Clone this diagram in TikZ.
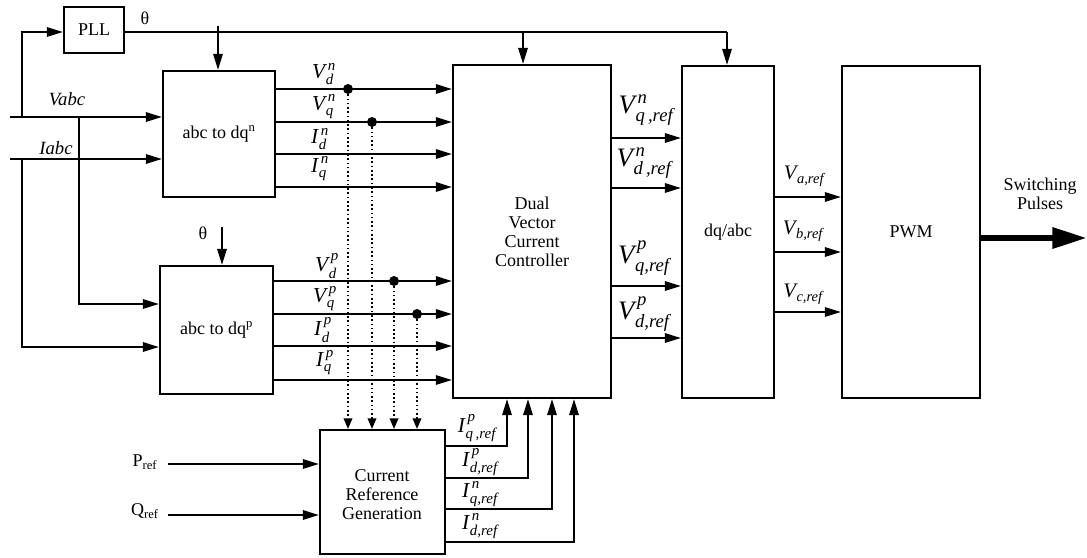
\documentclass[tikz,border=0pt]{standalone}
\usepackage{amsmath}
\usepackage{fontspec}
\setmainfont{Liberation Serif}
\usetikzlibrary{arrows.meta,fit}
\newcommand\sg[3]{$\textit{#1}^{\kern2pt\textit{#2}}_{\kern0.5pt\textit{#3}}$}
\begin{document}
\begin{tikzpicture}[x=0.75pt,y=-0.75pt,
  box/.style={draw, line width=1.6pt, inner sep=0pt},
  btxt/.style={align=center, inner sep=0pt, font=\fontsize{13.5}{14.2}\selectfont},
  ln/.style={line width=1.5pt},
  arr/.style={line width=1.5pt, -{Triangle[length=12pt,width=7pt]}},
  dotarr/.style={dotted, line width=1.2pt, -{Triangle[length=8pt,width=6.5pt]}},
  jn/.style={circle, fill, inner sep=0pt, minimum size=7.5pt},
  lbl/.style={inner sep=0pt, font=\fontsize{16}{16}\selectfont},
  lblbig/.style={inner sep=0pt, font=\fontsize{20}{20}\selectfont},
  lblmid/.style={inner sep=0pt, font=\fontsize{16}{16}\selectfont},
  lblsm/.style={inner sep=0pt, font=\fontsize{15.5}{15.5}\selectfont},
  txt/.style={inner sep=0pt, font=\fontsize{13.5}{14.2}\selectfont}]
\useasboundingbox (0,0) rectangle (1087,557);

% blocks
\node[box, fit={(64,7) (124,53)}] (pll) {};
\node[btxt] (tpll) at (pll.center) {PLL};
\node[box, fit={(163,71) (275,197)}] (abcn) {};
\node[btxt] (tabcn) at (abcn.center) {abc to dq\textsuperscript{n}};
\node[box, fit={(160,266) (273,394)}] (abcp) {};
\node[btxt] (tabcp) at (abcp.center) {abc to dq\textsuperscript{p}};
\node[box, fit={(453,65) (611,398)}] (dual) {};
\node[btxt] (tdual) at (dual.center) {Dual\\Vector\\Current\\Controller};
\node[box, fit={(682,66) (774,398)}] (dqabc) {};
\node[btxt] (tdqabc) at (dqabc.center) {dq/abc};
\node[box, fit={(842,66) (980,398)}] (pwm) {};
\node[btxt] (tpwm) at (pwm.center) {PWM};
\node[box, fit={(320,430) (445,554)}] (crg) {};
\node[btxt] (tcrg) at (382,495) {Current\\Reference\\Generation};

% coordinates
\coordinate (vin) at (10,117);
\coordinate (iin) at (10,159);
\coordinate (vj) at (22,117);
\coordinate (vk) at (22,32);
\coordinate (vj2) at (79,117);
\coordinate (vb2) at (79,304);
\coordinate (ij) at (22,159);
\coordinate (ib) at (22,347);
\coordinate (thend) at (727,32);
\coordinate (tha) at (218,26);
\coordinate (thb) at (523,32);
\coordinate (thp) at (222,227);
\coordinate (pin) at (168,464);
\coordinate (qin) at (168,515);
\coordinate (swend) at (1087,238);

% PLL and theta
\draw[ln] (pll.east |- vk) -- (thend);
\draw[arr] (tha) -- (tha |- abcn.north);
\draw[arr] (thb) -- (thb |- dual.north);
\draw[arr] (thend) -- (thend |- dqabc.north);
\draw[arr] (thp) -- (thp |- abcp.north);
\node[txt] (th1) at (145,18) {θ};
\node[txt] (th2) at (203,233) {θ};

% inputs
\draw[arr] (vin) -- (vin -| abcn.west);
\draw[arr] (iin) -- (iin -| abcn.west);
\draw[arr] (vj) -- (vk) -- (pll.west |- vk);
\draw[arr] (vj2) -- (vb2) -- (vb2 -| abcp.west);
\draw[arr] (ij) -- (ib) -- (ib -| abcp.west);
\node[txt, font=\fontsize{14}{14}\selectfont\itshape] (lv) at (67,99) {Vabc};
\node[txt, font=\fontsize{14}{14}\selectfont\itshape] (li) at (56,148) {Iabc};

% abc to dq outputs
\foreach \y in {89,122,154,187} {\draw[arr] (abcn.east |- 0,\y) -- (dual.west |- 0,\y);}
\foreach \y in {281,314,346,380} {\draw[arr] (abcp.east |- 0,\y) -- (dual.west |- 0,\y);}
\node[jn] (d1) at (348,89) {};
\node[jn] (d2) at (372,122) {};
\node[jn] (d3) at (394,281) {};
\node[jn] (d4) at (417,314) {};
\foreach \d in {d1,d2,d3,d4} {\draw[dotarr] (\d) -- (\d |- crg.north);}

\node[lbl] (lvdn) at (324,74) {\sg{V}{n}{d}};
\node[lbl] (lvqn) at (324,107) {\sg{V}{n}{q}};
\node[lbl] (lidn) at (320,139) {\sg{I}{n}{d}};
\node[lbl] (liqn) at (320,169) {\sg{I}{n}{q}};
\node[lbl] (lvdp) at (327,266) {\sg{V}{p}{d}};
\node[lbl] (lvqp) at (325,299) {\sg{V}{p}{q}};
\node[lbl] (lidp) at (323,330) {\sg{I}{p}{d}};
\node[lbl] (liqp) at (325,363) {\sg{I}{p}{q}};

% dual outputs
\foreach \y in {138,188,286,338} {\draw[arr] (dual.east |- 0,\y) -- (dqabc.west |- 0,\y);}
\node[lblbig] (lvqrn) at (646,110) {\sg{V}{n}{q\,,ref}};
\node[lblbig] (lvdrn) at (644,163) {\sg{V}{n}{d\,,ref}};
\node[lblbig] (lvqrp) at (644,258) {\sg{V}{p}{q,ref}};
\node[lblbig] (lvdrp) at (644,314) {\sg{V}{p}{d,ref}};

% dq/abc outputs
\foreach \y in {197,252,312} {\draw[arr] (dqabc.east |- 0,\y) -- (pwm.west |- 0,\y);}
\node[lblsm] (lva) at (804,176) {$\textit{V}_{\kern0.5pt\textit{a,ref}}$};
\node[lblsm] (lvb) at (803,231) {$\textit{V}_{\kern0.5pt\textit{b,ref}}$};
\node[lblsm] (lvc) at (803,294) {$\textit{V}_{\kern0.5pt\textit{c,ref}}$};

% switching pulses
\draw[line width=4.8pt, -{Triangle[length=26pt,width=15pt]}] (pwm.east |- swend) -- (swend);
\node[txt, align=center] (lsw) at (1040,194) {Switching\\Pulses};

% current reference outputs
\coordinate (c1) at (507,446);
\coordinate (c2) at (528,478);
\coordinate (c3) at (552,509);
\coordinate (c4) at (574,542);
\foreach \c in {c1,c2,c3,c4} {\draw[arr] (crg.east |- \c) -- (\c) -- (\c |- dual.south);}
\node[lblmid] (liqrp) at (477,428) {\sg{I}{p}{q\,,ref}};
\node[lblmid] (lidrp) at (480,462) {\sg{I}{p}{d,ref}};
\node[lblmid] (liqrn) at (480,494) {\sg{I}{n}{q,ref}};
\node[lblmid] (lidrn) at (480,526) {\sg{I}{n}{d,ref}};

% P and Q refs
\draw[arr] (pin) -- (pin -| crg.west);
\draw[arr] (qin) -- (qin -| crg.west);
\node[txt] (lp) at (145,462) {P\textsubscript{ref}};
\node[txt] (lq) at (145,511) {Q\textsubscript{ref}};
\end{tikzpicture}
\end{document}
